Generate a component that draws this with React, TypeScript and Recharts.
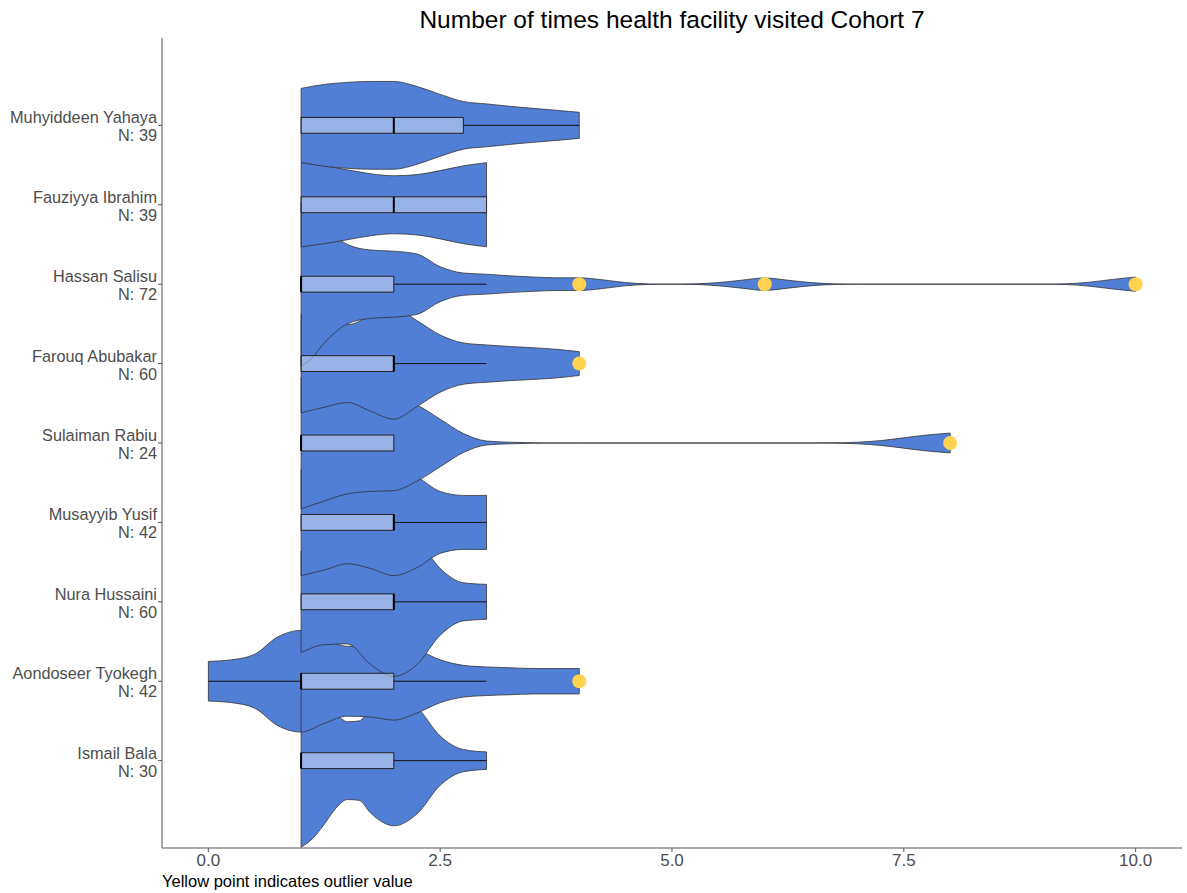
import React from 'react';
import {
  ComposedChart,
  Area,
  XAxis,
  YAxis,
  ReferenceArea,
  ReferenceLine,
  ReferenceDot
} from 'recharts';

// categories, top to bottom
const people = [
  'Muhyiddeen Yahaya',
  'Fauziyya Ibrahim',
  'Hassan Salisu',
  'Farouq Abubakar',
  'Sulaiman Rabiu',
  'Musayyib Yusif',
  'Nura Hussaini',
  'Aondoseer Tyokegh',
  'Ismail Bala'
];
const counts = [39, 39, 72, 60, 24, 42, 60, 42, 30];

// violin outlines: x positions and half-width (in category units)
const muhyiddeenX = [1, 1.25, 1.5, 1.75, 2, 2.25, 2.5, 2.75, 3, 3.25, 3.5, 3.75, 4];
const muhyiddeenW = [0.465, 0.516, 0.541, 0.553, 0.553, 0.49, 0.39, 0.3, 0.27, 0.24, 0.214, 0.19, 0.164];

const fauziyyaX = [1, 1.25, 1.5, 1.75, 2, 2.25, 2.5, 2.75, 3];
const fauziyyaW = [0.53, 0.49, 0.44, 0.39, 0.365, 0.38, 0.43, 0.49, 0.53];

const hassanX = [1, 1.1, 1.25, 1.5, 1.75, 2, 2.25, 2.5, 2.75, 3, 3.25, 3.5, 3.75, 4, 4.25, 4.5, 4.75, 5, 5.25, 5.5, 5.75, 6, 6.25, 6.5, 6.75, 7, 9, 9.25, 9.5, 9.75, 10];
const hassanW = [1.03, 0.95, 0.74, 0.5, 0.43, 0.415, 0.38, 0.22, 0.14, 0.125, 0.105, 0.09, 0.08, 0.08, 0.055, 0.02, 0.003, 0, 0.004, 0.02, 0.05, 0.078, 0.05, 0.02, 0.004, 0, 0, 0.005, 0.025, 0.06, 0.09];

const farouqX = [1, 1.25, 1.5, 1.75, 2, 2.25, 2.5, 2.75, 3, 3.25, 3.5, 3.75, 4];
const farouqW = [0.62, 0.55, 0.49, 0.6, 0.7, 0.54, 0.36, 0.26, 0.235, 0.215, 0.2, 0.18, 0.15];

const sulaimanX = [1, 1.25, 1.5, 1.75, 2, 2.25, 2.5, 2.75, 3, 3.25, 3.5, 3.75, 4, 6.5, 6.75, 7, 7.25, 7.5, 7.75, 8];
const sulaimanW = [0.83, 0.73, 0.64, 0.61, 0.6, 0.48, 0.3, 0.12, 0.025, 0.01, 0.003, 0, 0, 0, 0.002, 0.01, 0.03, 0.065, 0.1, 0.125];

const musayyibX = [1, 1.25, 1.5, 1.75, 2, 2.25, 2.5, 2.75, 3];
const musayyibW = [0.67, 0.6, 0.52, 0.58, 0.67, 0.57, 0.39, 0.34, 0.34];

const nuraX = [1, 1.25, 1.5, 1.75, 2, 2.25, 2.5, 2.75, 3];
const nuraW = [0.64, 0.54, 0.53, 0.79, 0.94, 0.79, 0.42, 0.24, 0.22];

const aondoseerX = [0, 0.25, 0.5, 0.75, 1, 1.25, 1.5, 1.75, 2, 2.25, 2.5, 2.75, 3, 3.25, 3.5, 3.75, 4];
const aondoseerW = [0.25, 0.27, 0.34, 0.56, 0.64, 0.53, 0.44, 0.45, 0.49, 0.4, 0.27, 0.2, 0.18, 0.17, 0.16, 0.16, 0.16];

const ismailX = [1, 1.125, 1.25, 1.375, 1.5, 1.625, 1.75, 2, 2.25, 2.5, 2.75, 3];
const ismailW = [1.09, 0.98, 0.8, 0.6, 0.49, 0.5, 0.66, 0.82, 0.67, 0.31, 0.14, 0.11];

const violinXs = [muhyiddeenX, fauziyyaX, hassanX, farouqX, sulaimanX, musayyibX, nuraX, aondoseerX, ismailX];
const violinWs = [muhyiddeenW, fauziyyaW, hassanW, farouqW, sulaimanW, musayyibW, nuraW, aondoseerW, ismailW];

// box plot stats
const whiskerLow = [1, 1, 1, 1, 1, 1, 1, 0, 1];
const q1 = [1, 1, 1, 1, 1, 1, 1, 1, 1];
const median = [2, 2, 1, 2, 1, 2, 2, 1, 1];
const q3 = [2.75, 3, 2, 2, 2, 2, 2, 2, 2];
const whiskerHigh = [4, 3, 3, 3, 2, 3, 3, 3, 3];
const outliers = [[], [], [4, 6, 10], [4], [8], [], [], [4], []];

const xTicks = [0, 2.5, 5, 7.5, 10];

const VIOLIN = '#517fd6';
const OUTLINE = '#333333';
const YELLOW = '#ffd24f';
const FONT = '"Liberation Sans", Arial, Helvetica, sans-serif';
const HALF_BOX = 0.1;

const pos = (i: number) => people.length - i;

function PersonTick(props: any) {
  const { x, y, payload } = props;
  const i = people.length - payload.value;
  if (i < 0 || i >= people.length) return null;
  return (
    <text x={x} y={y} textAnchor="end" fill="#4d4d4d" fontSize={16.3} fontFamily={FONT}>
      <tspan x={x} dy={-2}>{people[i]}</tspan>
      <tspan x={x} dy={18}>{`N: ${counts[i]}`}</tspan>
    </text>
  );
}

export default function App() {
  const order = people.map((_, i) => i).reverse();

  return (
    <div style={{ position: 'absolute', left: 0, top: 0, width: 1187, height: 893, background: '#fff', fontFamily: FONT }}>
      <div style={{ position: 'absolute', left: 162, width: 1020, top: 6, textAlign: 'center', fontSize: 24.5, color: '#000' }}>
        Number of times health facility visited Cohort 7
      </div>
      <ComposedChart width={1187} height={893} margin={{ top: 38, right: 5, bottom: 15, left: 8 }}>
        <XAxis
          type="number"
          dataKey="x"
          domain={[-0.5, 10.5]}
          ticks={xTicks}
          allowDataOverflow
          tickFormatter={(v: number) => v.toFixed(1)}
          height={30}
          tickSize={4}
          stroke="#555"
          tick={{ fill: '#4d4d4d', fontSize: 17, fontFamily: FONT }}
        />
        <YAxis
          type="number"
          domain={[-0.1, 10.1]}
          ticks={people.map((_, i) => pos(i))}
          allowDataOverflow
          width={154}
          tickSize={4}
          tickMargin={1}
          stroke="#555"
          tick={<PersonTick />}
        />
        {order.map((i) => {
          const c = pos(i);
          const data = violinXs[i].map((x, k) => ({ x, band: [c - violinWs[i][k], c + violinWs[i][k]] }));
          return (
            <Area
              key={`violin-${i}`}
              data={data}
              dataKey="band"
              type="monotone"
              fill={VIOLIN}
              fillOpacity={1}
              stroke={OUTLINE}
              strokeWidth={0.8}
              dot={false}
              activeDot={false}
              isAnimationActive={false}
            />
          );
        })}
        {order.map((i) => {
          const c = pos(i);
          const xs = violinXs[i];
          const ws = violinWs[i];
          const last = xs.length - 1;
          return [
            <ReferenceLine
              key={`l-${i}`}
              segment={[{ x: xs[0], y: c - ws[0] }, { x: xs[0], y: c + ws[0] }]}
              stroke={OUTLINE}
              strokeWidth={0.8}
            />,
            <ReferenceLine
              key={`r-${i}`}
              segment={[{ x: xs[last], y: c - ws[last] }, { x: xs[last], y: c + ws[last] }]}
              stroke={OUTLINE}
              strokeWidth={0.8}
            />
          ];
        })}
        {people.map((_, i) => {
          const c = pos(i);
          const items = [];
          if (whiskerLow[i] < q1[i]) {
            items.push(
              <ReferenceLine key={`wl-${i}`} segment={[{ x: whiskerLow[i], y: c }, { x: q1[i], y: c }]} stroke="#111" strokeWidth={1} />
            );
          }
          if (whiskerHigh[i] > q3[i]) {
            items.push(
              <ReferenceLine key={`wh-${i}`} segment={[{ x: q3[i], y: c }, { x: whiskerHigh[i], y: c }]} stroke="#111" strokeWidth={1} />
            );
          }
          items.push(
            <ReferenceArea
              key={`box-${i}`}
              x1={q1[i]}
              x2={q3[i]}
              y1={c - HALF_BOX}
              y2={c + HALF_BOX}
              fill="#ffffff"
              fillOpacity={0.4}
              stroke="#222"
              strokeWidth={1}
            />
          );
          items.push(
            <ReferenceLine
              key={`med-${i}`}
              segment={[{ x: median[i], y: c - HALF_BOX }, { x: median[i], y: c + HALF_BOX }]}
              stroke="#000"
              strokeWidth={2}
            />
          );
          return items;
        })}
        {people.map((_, i) =>
          outliers[i].map((o) => (
            <ReferenceDot key={`o-${i}-${o}`} x={o} y={pos(i)} r={7} fill={YELLOW} stroke="none" />
          ))
        )}
      </ComposedChart>
      <div style={{ position: 'absolute', left: 162, top: 872, fontSize: 16.5, color: '#000' }}>
        Yellow point indicates outlier value
      </div>
    </div>
  );
}
